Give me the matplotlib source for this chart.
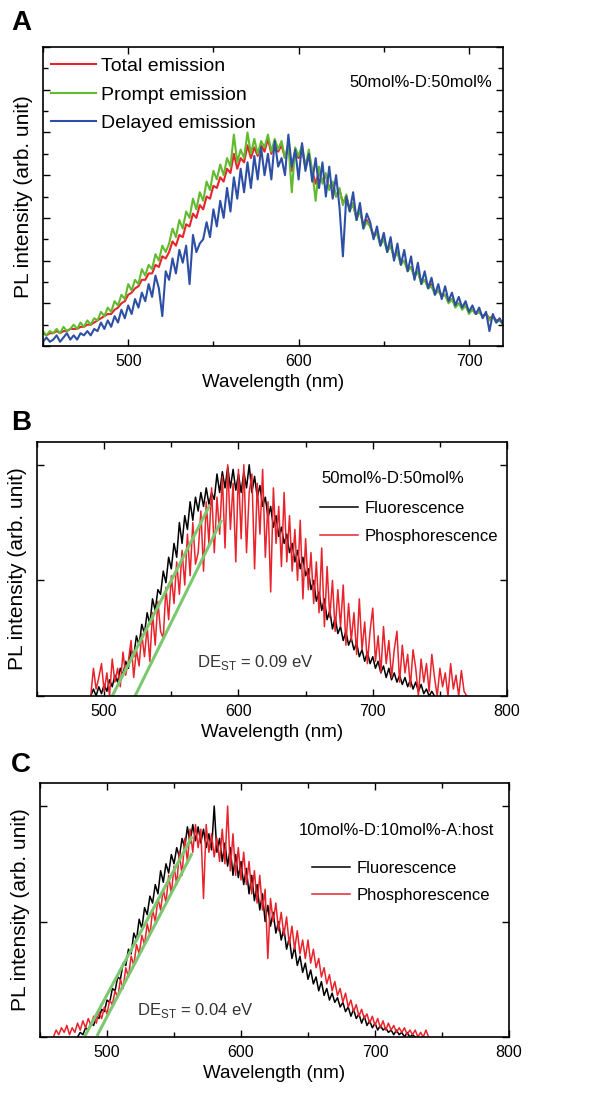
import numpy as np
import matplotlib.pyplot as plt
from matplotlib.ticker import MultipleLocator

plt.rcParams['font.family'] = ['Liberation Sans', 'DejaVu Sans']

# ---- Panel A : 50mol%-D:50mol%, total / prompt / delayed (2 nm steps from 450 nm, values in %)
a_start, a_step = 450, 2
a_total = [6, 5, 6, 6, 7, 6, 7, 7, 8, 8, 8, 9, 9, 10, 10, 11,
           12, 13, 14, 15, 15, 17, 18, 20, 21, 24, 25, 27, 28, 31, 31,
           34, 34, 38, 37, 42, 41, 44, 49, 47, 52, 51, 57, 56, 62, 60, 66, 64, 70, 69, 75,
           74, 79, 77, 83, 81, 90, 83, 88, 86, 94, 88, 93, 89, 94, 91, 97, 90, 95, 91, 94,
           88, 93, 82, 91, 88, 92, 84, 89, 82, 76, 82, 77, 80, 74, 76, 70, 73, 67, 70, 64,
           66, 60, 63, 57, 59,
           56, 52, 53, 48, 50, 45, 47, 42, 44, 39, 40, 36, 37, 33, 35, 30, 31, 28, 29, 25,
           26, 24, 24, 21, 22, 19, 20, 18, 19, 16, 17, 15, 16, 14, 15, 13, 14, 12, 12, 11]
a_prompt = [7, 5, 7, 6, 8, 6, 9, 7, 8, 10, 8, 11, 9, 12, 10, 13,
            12, 16, 14, 18, 16, 21, 19, 24, 22, 29, 26, 31, 29, 36, 33,
            38, 36, 43, 40, 47, 44, 48, 55, 51, 59, 55, 63, 60, 69, 64, 72, 68, 77, 73, 82,
            78, 85, 80, 88, 84, 99, 86, 92, 88, 100, 90, 97, 90, 96, 93, 99, 91, 97, 92, 96,
            88, 95, 72, 93, 89, 94, 84, 92, 82, 68, 84, 76, 81, 73, 77, 70, 74, 66, 71, 63,
            67, 59, 64, 55, 58,
            56, 51, 53, 47, 50, 44, 47, 41, 44, 38, 40, 35, 37, 32, 35, 29, 31, 27, 28, 24,
            26, 23, 24, 20, 22, 18, 20, 17, 19, 15, 17, 15, 16, 14, 15, 12, 14, 11, 12, 10]
a_delayed = [2, 4, 2, 3, 5, 2, 4, 6, 3, 5, 3, 6, 5, 7, 5, 8,
             7, 11, 8, 12, 9, 14, 11, 17, 13, 19, 15, 22, 18, 25, 21,
             29, 23, 33, 27, 14, 35, 31, 41, 34, 45, 39, 47, 29, 52, 44, 48, 50, 58, 51, 64,
             56, 68, 60, 74, 63, 79, 69, 83, 72, 86, 74, 89, 78, 93, 80, 90, 78, 96, 84, 88,
             80, 99, 84, 92, 78, 95, 82, 90, 77, 88, 74, 86, 70, 84, 69, 80, 65, 42, 70, 63,
             72, 59, 67, 55, 62,
             58, 50, 56, 47, 53, 44, 51, 40, 48, 38, 45, 35, 42, 31, 39, 29, 35, 27, 32, 24,
             29, 22, 28, 21, 25, 19, 23, 18, 21, 16, 19, 15, 18, 13, 16, 7, 15, 11, 13, 10]

# ---- Panel B : 50mol%-D:50mol% (2 nm steps from 490 nm, values in %)
b_start, b_step = 490, 2
b_fluo = [0, 3, 0, 4, 1, 5, 2, 7, 4, 9, 6, 12, 9, 15, 12, 20, 17, 26, 22, 31,
          27, 36, 31, 42, 37, 46, 44, 54, 49, 60, 55, 66, 60, 75, 66, 78, 72, 84, 76, 86,
          80, 88, 82, 90, 83, 88, 85, 96, 88, 97, 90, 99, 90, 98, 89, 96, 88, 97, 90, 100,
          88, 95, 86, 91, 82, 86, 77, 82, 73, 78, 69, 73, 66, 70, 62, 66, 58, 63, 55, 60,
          52, 55, 46, 50, 41, 45, 37, 42, 33, 37, 29, 34, 27, 30, 24, 28, 22, 25, 20, 23,
          17, 20, 15, 19, 14, 17, 12, 15, 10, 13, 8, 12, 7, 10, 6, 9, 5, 8, 4, 7,
          3, 6, 2, 5, 1, 3, 0, 2, 0]
b_phos = [0, 12, 3, 8, 14, 2, 10, 0, 16, 6, 12, 4, 19, 9, 15, 24, 8, 20, 13, 27, 17,
          30, 15, 36, 22, 41, 28, 25, 47, 33, 52, 40, 58, 44, 63, 48, 70, 52, 75, 57, 62,
          80, 54, 84, 66, 90, 62, 86, 70, 95, 64, 100, 72, 92, 58, 98,
          68, 100, 62, 88, 96, 55, 92, 70, 98, 60, 84, 45, 90, 66, 82, 56, 88, 58, 78, 54,
          72, 50, 76, 42, 68, 46, 62, 40, 58, 36, 64, 30, 56, 34, 50, 28, 46, 30, 48, 22,
          40, 24, 36, 18, 42, 20, 32, 14, 28, 38, 15, 26, 10, 30, 14, 24, 8, 20, 28, 6,
          22, 10, 18, 4, 20, 12, 0, 16, 6, 14, 2, 18, 8, 0, 12, 4, 10, 0, 14, 3,
          9, 0, 11, 2, 0]
b_fl_onset_x = [506, 578]
b_fl_onset_y = [0.0, 0.818]
b_ph_onset_x = [523, 587]
b_ph_onset_y = [0.0, 0.756]

# ---- Panel C : 10mol%-D:10mol%-A:host (2 nm steps, values in %)
c_fluo_start, c_phos_start, c_step = 478, 460, 2
c_fluo = [0, 2, 1, 4, 3, 6, 5, 9, 8, 12, 11, 16, 15, 21, 20, 26, 25, 32, 31, 38,
          36, 45, 42, 51, 47, 56, 53, 61, 58, 66, 62, 72, 67, 75, 71, 79, 75, 82, 78, 86,
          82, 91, 84, 92, 85, 91, 84, 90, 82, 88, 81, 100, 80, 86, 76, 84, 74, 82, 70, 79,
          69, 76, 66, 73, 62, 70, 59, 66, 55, 62, 50, 57, 48, 54, 45, 50, 42, 47, 38, 43,
          34, 39, 31, 35, 28, 32, 25, 29, 23, 26, 20, 24, 18, 21, 16, 19, 15, 17, 13, 15,
          11, 13, 9, 12, 8, 10, 6, 9, 5, 7, 4, 6, 3, 5, 3, 4, 2, 3, 1, 3,
          1, 2, 0, 2, 0, 1, 0]
c_phos = [0, 3, 1, 4, 2, 5, 1, 4, 2, 6, 3, 7, 4, 8, 5, 9, 6, 11, 8, 13,
          10, 16, 14, 20, 17, 25, 21, 30, 26, 35, 31, 40, 36, 44, 40, 49, 44, 55, 50, 60,
          55, 64, 58, 70, 62, 74, 66, 80, 70, 86, 76, 90, 80, 92, 82, 90, 60, 92, 80, 88,
          78, 86, 76, 90, 75, 100, 72, 88, 70, 82, 68, 80, 66, 76, 62, 72, 58, 70, 55, 64,
          34, 60, 50, 58, 46, 54, 44, 52, 40, 48, 38, 46, 36, 42, 34, 42, 32, 38, 30, 34,
          26, 30, 23, 27, 20, 24, 18, 21, 15, 19, 13, 16, 11, 14, 9, 12, 8, 10, 6, 9,
          5, 8, 4, 7, 3, 6, 3, 5, 2, 4, 2, 4, 1, 3, 1, 3, 0, 2, 0, 3, 0]
c_fl_onset_x = [484, 563]
c_fl_onset_y = [0.01, 0.863]
c_ph_onset_x = [493, 563]
c_ph_onset_y = [0.01, 0.79]

RED = '#e8232b'
GREEN = '#62bb2e'
BLUE = '#2d4fa4'
ONSET = '#7cc870'


def wl(start, step, vals):
    return start + step * np.arange(len(vals))


def pct(vals):
    return np.array(vals) / 100.0


def style_axes(ax, xlim, ylim, xmaj, xmin, ymaj, ymin):
    ax.set_xlim(*xlim)
    ax.set_ylim(*ylim)
    ax.xaxis.set_major_locator(MultipleLocator(xmaj))
    ax.xaxis.set_minor_locator(MultipleLocator(xmin))
    ax.yaxis.set_major_locator(MultipleLocator(ymaj))
    if ymin:
        ax.yaxis.set_minor_locator(MultipleLocator(ymin))
    ax.tick_params(which='both', direction='in', top=True, right=True,
                   labelleft=False, labelsize=11.5, pad=6, width=1.0)
    ax.tick_params(which='major', length=5)
    ax.tick_params(which='minor', length=3.5)
    for s in ax.spines.values():
        s.set_linewidth(1.2)
    ax.set_xlabel('Wavelength (nm)', fontsize=13.5, labelpad=3)
    ax.set_ylabel('PL intensity (arb. unit)', fontsize=15, labelpad=7)


fig = plt.figure(figsize=(6.12, 10.94), dpi=100)

# Panel A
axA = fig.add_axes([0.0703, 0.6837, 0.7517, 0.2733])
axA.plot(wl(a_start, a_step, a_total), pct(a_total), color=RED, lw=1.5, label='Total emission')
axA.plot(wl(a_start, a_step, a_prompt), pct(a_prompt), color=GREEN, lw=1.5, label='Prompt emission')
axA.plot(wl(a_start, a_step, a_delayed), pct(a_delayed), color=BLUE, lw=1.5, label='Delayed emission')
style_axes(axA, (450, 720), (0, 1.4), 100, 50, 0.2, 0.1)
axA.set_xticks([500, 600, 700])
axA.legend(loc='upper left', bbox_to_anchor=(0.017, 0.965), frameon=False, fontsize=14,
           handlelength=2.3, handletextpad=0.3, labelspacing=0.56, borderpad=0, borderaxespad=0)
axA.text(0.976, 0.88, '50mol%-D:50mol%', transform=axA.transAxes, fontsize=12,
         ha='right', va='center')

# Panel B
axB = fig.add_axes([0.0605, 0.3638, 0.7680, 0.2325])
axB.plot(wl(b_start, b_step, b_fluo), pct(b_fluo), color='black', lw=1.1, label='Fluorescence')
axB.plot(wl(b_start, b_step, b_phos), pct(b_phos), color=RED, lw=1.1, label='Phosphorescence')
axB.plot(b_fl_onset_x, b_fl_onset_y, color=ONSET, lw=2.2)
axB.plot(b_ph_onset_x, b_ph_onset_y, color=ONSET, lw=2.2)
style_axes(axB, (450, 800), (0, 1.1), 100, 50, 0.5, None)
axB.text(0.606, 0.857, '50mol%-D:50mol%', transform=axB.transAxes, fontsize=12,
         ha='left', va='center')
axB.legend(loc='upper left', bbox_to_anchor=(0.602, 0.768), frameon=False, fontsize=12,
           handlelength=2.3, handletextpad=0.35, labelspacing=0.78, borderpad=0, borderaxespad=0)
axB.text(0.34, 0.13, r'DE$_\mathregular{ST}$ = 0.09 eV', transform=axB.transAxes,
         fontsize=12, color='#333333', ha='left', va='center')

# Panel C
axC = fig.add_axes([0.0654, 0.0521, 0.7663, 0.2322])
axC.plot(wl(c_fluo_start, c_step, c_fluo), pct(c_fluo), color='black', lw=1.1, label='Fluorescence')
axC.plot(wl(c_phos_start, c_step, c_phos), pct(c_phos), color=RED, lw=1.1, label='Phosphorescence')
axC.plot(c_fl_onset_x, c_fl_onset_y, color=ONSET, lw=2.2)
axC.plot(c_ph_onset_x, c_ph_onset_y, color=ONSET, lw=2.2)
style_axes(axC, (450, 800), (0, 1.1), 100, 50, 0.5, None)
axC.text(0.552, 0.811, '10mol%-D:10mol%-A:host', transform=axC.transAxes, fontsize=12,
         ha='left', va='center')
axC.legend(loc='upper left', bbox_to_anchor=(0.58, 0.693), frameon=False, fontsize=12,
           handlelength=2.3, handletextpad=0.35, labelspacing=0.73, borderpad=0, borderaxespad=0)
axC.text(0.207, 0.106, r'DE$_\mathregular{ST}$ = 0.04 eV', transform=axC.transAxes,
         fontsize=12, color='#333333', ha='left', va='center')

# panel letters
for y, letter in [(0.991, 'A'), (0.625, 'B'), (0.3126, 'C')]:
    fig.text(0.018, y, letter, fontsize=20, fontweight='bold', va='top', ha='left')

fig.savefig('out.png', dpi=100)
